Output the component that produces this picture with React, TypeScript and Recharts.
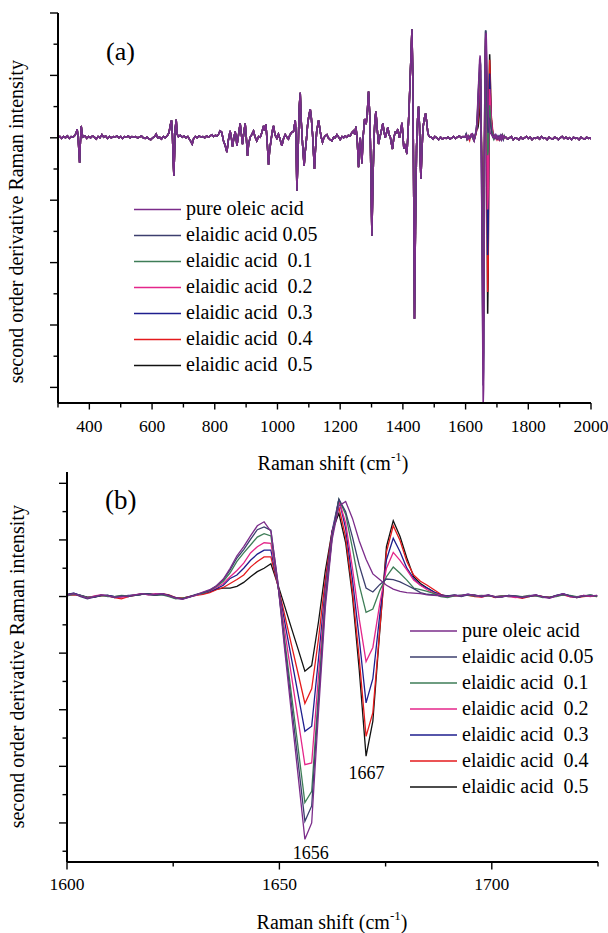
import React from 'react';
import { LineChart, Line, XAxis, YAxis, Legend } from 'recharts';

const FONT = '"Liberation Serif", "Times New Roman", Times, serif';

// ---------- Series meta ----------
const SERIES_NAMES = [
  'pure oleic acid',
  'elaidic acid 0.05',
  'elaidic acid\u00a0 0.1',
  'elaidic acid\u00a0 0.2',
  'elaidic acid\u00a0 0.3',
  'elaidic acid\u00a0 0.4',
  'elaidic acid\u00a0 0.5',
];
const SERIES_KEYS = ['oleic', 'e005', 'e01', 'e02', 'e03', 'e04', 'e05'];
const SERIES_COLORS = ['#7B2C8A', '#3C3F6E', '#3E7D57', '#E4268A', '#1E1E8E', '#E41A1C', '#111111'];
// drawing order (last on top)
const DRAW_ORDER = [6, 5, 4, 3, 2, 1, 0];

// ---------- Panel (b) data: 1600-1725 cm-1 ----------
const B_X = [
  1600, 1601.6, 1603.2, 1604.8, 1606.4, 1608, 1609.6, 1611.2, 1612.8, 1614.4,
  1616, 1617.6, 1619.2, 1620.8, 1622.4, 1624, 1625.6, 1627.2, 1628.8, 1630.4,
  1632, 1633.6, 1635.2, 1636.8, 1638.4, 1640, 1641.6, 1643.2, 1644.8, 1646.4,
  1648, 1649.6, 1651.2, 1652.8, 1654.4, 1656, 1657.6, 1659.2, 1660.8, 1662.4,
  1664, 1665.6, 1667.2, 1668.8, 1670.4, 1672, 1673.6, 1675.2, 1676.8, 1678.4,
  1680, 1681.6, 1683.2, 1684.8, 1686.4, 1688, 1689.6, 1691.2, 1692.8, 1694.4,
  1696, 1697.6, 1699.2, 1700.8, 1702.4, 1704, 1705.6, 1707.2, 1708.8, 1710.4,
  1712, 1713.6, 1715.2, 1716.8, 1718.4, 1720, 1721.6, 1723.2, 1724.8,
];

const OLEIC_B = [
  0.02, 0.05, 0.01, -0.03, 0.00, 0.03, 0.01, -0.01, 0.00, 0.01,
  0.03, 0.05, 0.03, 0.04, 0.05, 0.01, -0.03, -0.05, -0.01, 0.03,
  0.08, 0.12, 0.19, 0.31, 0.50, 0.72, 0.88, 1.07, 1.25, 1.32,
  1.15, 0.28, -0.91, -2.04, -3.16, -4.29, -4.00, -2.05, -0.20, 1.00,
  1.60, 1.68, 1.38, 0.98, 0.66, 0.40, 0.30, 0.20, 0.13, 0.09,
  0.07, 0.06, 0.05, 0.03, 0.02, 0.01, 0.00, 0.02, 0.01, 0.04,
  0.02, 0.01, 0.03, -0.01, 0.00, 0.01, 0.00, -0.02, 0.01, 0.03,
  -0.01, -0.03, 0.01, 0.05, 0.00, -0.01, 0.02, 0.01, 0.02,
];
const EA005_B = [
  0.04, 0.06, 0.00, -0.04, -0.01, 0.02, 0.02, -0.02, 0.01, 0.00,
  0.02, 0.04, 0.05, 0.03, 0.04, 0.02, -0.02, -0.04, 0.00, 0.04,
  0.07, 0.11, 0.19, 0.30, 0.47, 0.68, 0.83, 1.01, 1.18, 1.23,
  1.17, 0.26, -0.83, -1.88, -2.92, -3.97, -3.70, -1.85, -0.10, 1.05,
  1.72, 1.50, 1.05, 0.55, 0.15, 0.08, 0.21, 0.31, 0.30, 0.26,
  0.20, 0.14, 0.07, 0.04, 0.03, 0.01, 0.01, 0.03, 0.00, 0.03,
  0.03, 0.00, 0.02, 0.00, -0.01, 0.02, 0.01, -0.01, 0.00, 0.02,
  0.00, -0.02, 0.02, 0.04, 0.01, -0.02, 0.01, 0.02, 0.01,
];
const EA01_B = [
  0.01, 0.04, 0.02, -0.02, 0.00, 0.02, 0.00, 0.00, 0.02, 0.01,
  0.02, 0.04, 0.04, 0.03, 0.03, 0.00, -0.04, -0.03, -0.01, 0.03,
  0.06, 0.11, 0.18, 0.27, 0.42, 0.62, 0.77, 0.91, 1.05, 1.11,
  1.07, 0.24, -0.74, -1.71, -2.67, -3.64, -3.44, -1.70, -0.05, 1.05,
  1.72, 1.45, 0.85, 0.20, -0.28, -0.22, 0.10, 0.35, 0.52, 0.41,
  0.29, 0.15, 0.12, 0.09, 0.05, 0.00, -0.02, 0.01, 0.02, 0.02,
  0.01, 0.02, 0.01, 0.00, 0.01, 0.00, 0.01, 0.00, 0.02, 0.01,
  -0.02, -0.01, 0.00, 0.03, 0.02, 0.00, 0.01, 0.03, 0.00,
];
const EA02_B = [
  0.03, 0.04, 0.01, -0.03, 0.01, 0.03, 0.01, -0.02, -0.01, 0.00,
  0.03, 0.05, 0.03, 0.05, 0.04, 0.01, -0.02, -0.04, 0.00, 0.02,
  0.06, 0.10, 0.16, 0.23, 0.35, 0.46, 0.59, 0.77, 0.88, 0.95,
  0.94, 0.22, -0.58, -1.38, -2.17, -2.97, -2.94, -1.40, 0.05, 1.10,
  1.70, 1.30, 0.50, -0.40, -1.15, -0.90, -0.14, 0.50, 0.78, 0.64,
  0.47, 0.29, 0.20, 0.12, 0.06, 0.02, 0.00, 0.02, 0.01, 0.03,
  0.02, -0.01, 0.02, 0.00, 0.01, 0.00, -0.02, 0.00, 0.01, 0.02,
  0.00, -0.02, 0.01, 0.04, 0.00, -0.01, 0.02, 0.00, 0.02,
];
const EA03_B = [
  0.03, 0.06, 0.02, -0.02, -0.01, 0.02, 0.02, 0.00, 0.00, 0.02,
  0.02, 0.04, 0.04, 0.03, 0.05, 0.02, -0.03, -0.04, -0.01, 0.03,
  0.06, 0.09, 0.14, 0.20, 0.32, 0.38, 0.50, 0.64, 0.75, 0.82,
  0.82, 0.21, -0.43, -1.08, -1.73, -2.38, -2.29, -1.10, 0.15, 1.15,
  1.72, 1.20, 0.30, -0.75, -1.88, -1.45, -0.34, 0.65, 1.03, 0.79,
  0.50, 0.32, 0.20, 0.15, 0.08, 0.03, 0.01, 0.02, 0.02, 0.04,
  0.01, 0.00, 0.03, -0.01, 0.00, 0.02, 0.00, -0.02, 0.01, 0.03,
  -0.01, -0.02, 0.02, 0.05, 0.01, -0.02, 0.01, 0.02, 0.01,
];
const EA04_B = [
  0.02, 0.03, 0.01, -0.02, 0.00, 0.02, 0.01, -0.02, -0.04, 0.00,
  0.02, 0.04, 0.05, 0.03, 0.05, 0.03, -0.02, -0.03, 0.00, 0.02,
  0.04, 0.07, 0.12, 0.16, 0.23, 0.30, 0.38, 0.52, 0.62, 0.70,
  0.70, 0.20, -0.31, -0.84, -1.36, -1.89, -1.63, -0.75, 0.30, 1.15,
  1.58, 1.05, 0.10, -1.10, -2.47, -2.05, -0.60, 0.79, 1.25, 0.99,
  0.62, 0.38, 0.27, 0.20, 0.12, 0.04, 0.00, 0.01, 0.02, 0.02,
  0.00, -0.01, 0.02, -0.02, 0.00, 0.01, -0.01, -0.03, 0.00, 0.02,
  0.00, -0.01, 0.01, 0.03, 0.00, -0.02, 0.00, 0.01, 0.00,
];
const EA05_B = [
  0.03, 0.05, 0.02, -0.01, -0.01, 0.01, 0.02, 0.00, 0.01, 0.01,
  0.03, 0.04, 0.04, 0.02, 0.04, 0.01, -0.03, -0.03, 0.00, 0.03,
  0.05, 0.08, 0.13, 0.15, 0.15, 0.18, 0.25, 0.35, 0.44, 0.50,
  0.58, 0.22, -0.16, -0.55, -0.93, -1.32, -1.22, -0.45, 0.45, 1.15,
  1.47, 0.95, 0.00, -1.30, -2.82, -2.20, -0.64, 0.88, 1.34, 1.06,
  0.68, 0.35, 0.23, 0.15, 0.08, 0.02, 0.01, 0.02, 0.01, 0.03,
  0.02, 0.00, 0.02, -0.01, 0.01, 0.01, 0.00, -0.02, 0.01, 0.02,
  0.00, -0.02, 0.01, 0.04, 0.01, -0.01, 0.01, 0.02, 0.01,
];
const B_SERIES = [OLEIC_B, EA005_B, EA01_B, EA02_B, EA03_B, EA04_B, EA05_B];

// ---------- Panel (a): common spectrum outside 1600-1725 (all samples overlap) ----------
const A_LOW_X = [
  300, 306, 312, 318, 324, 330, 336, 342, 348, 354,
  358, 361, 364, 366, 369, 371, 374, 377, 380, 386,
  392, 398, 404, 410, 416, 422, 428, 434, 440, 446,
  452, 458, 464, 470, 476, 482, 488, 494, 500, 506,
  512, 518, 524, 530, 536, 542, 548, 554, 560, 566,
  572, 578, 584, 590, 596, 602, 608, 613, 618, 624,
  630, 636, 642, 648, 654, 658, 662, 665, 667, 669.6,
  672, 674, 677, 680, 684, 690, 696, 702, 708, 714,
  720, 724, 728, 732, 738, 744, 750, 756, 762, 768,
  774, 780, 786, 791, 796, 802, 808, 812, 817, 822,
  828, 833, 838.7, 843, 849, 853, 856.6, 861, 865, 868,
  870.6, 875, 881, 885, 888.5, 892, 897, 900, 904.5, 908,
  913, 918, 923.6, 928, 934, 940, 945, 950, 955.6, 959,
  963, 967, 971.5, 975, 980, 984, 987.5, 992, 998, 1003,
  1008, 1014, 1019, 1024.7, 1030, 1035, 1040, 1046, 1051, 1056.7,
  1059, 1062, 1066, 1069, 1072.6, 1076, 1080, 1085, 1088, 1092,
  1096, 1100, 1104.5, 1108, 1112, 1115, 1118, 1121, 1125, 1131,
  1135, 1139, 1143.7, 1148, 1152, 1157.7, 1162, 1168, 1173.7, 1179,
  1184, 1189.6, 1195, 1200, 1206, 1211, 1216, 1221, 1226, 1232,
  1237, 1242.6, 1247, 1250, 1254, 1258.6, 1262, 1264, 1267, 1269.4,
  1273, 1277.9, 1283, 1287, 1290.5, 1294, 1296.5, 1299, 1301.2, 1304,
  1307.6, 1311, 1314, 1318, 1322.4, 1326, 1330, 1336, 1340, 1343.7,
  1348, 1352, 1356, 1359.6, 1363, 1367, 1371, 1375.6, 1380, 1384,
  1389, 1393, 1397, 1400, 1403, 1407.6, 1410.5, 1413, 1416.5, 1420,
  1424, 1428.9, 1431.5, 1434, 1437, 1440, 1443.6, 1447, 1450, 1453,
  1455, 1457.6, 1460, 1464, 1468, 1472.4, 1476, 1480, 1485, 1490,
  1496, 1502, 1508, 1514, 1520, 1526, 1532, 1538, 1544, 1550,
  1556, 1562, 1568, 1574, 1580, 1586, 1592, 1597,
];
const A_LOW_Y = [
  0.00, 0.02, -0.01, 0.02, 0.00, 0.03, -0.01, 0.02, 0.01, 0.04,
  0.08, 0.14, 0.02, -0.15, -0.40, -0.12, 0.19, 0.06, 0.01, 0.03,
  -0.01, 0.02, 0.00, 0.03, 0.01, -0.02, 0.02, 0.00, 0.05, 0.01,
  0.03, -0.01, 0.02, 0.00, 0.02, 0.01, 0.03, 0.00, 0.02, -0.01,
  0.02, 0.01, 0.03, 0.00, 0.02, 0.01, 0.02, 0.00, 0.01, 0.03,
  0.00, -0.01, 0.01, -0.02, -0.03, 0.00, 0.02, 0.06, 0.00, 0.01,
  -0.02, 0.02, 0.00, 0.03, 0.08, 0.20, 0.28, 0.05, -0.30, -0.61,
  -0.20, 0.15, 0.29, 0.06, 0.02, 0.04, 0.01, 0.03, 0.00, 0.02,
  -0.03, -0.06, -0.10, -0.02, 0.02, 0.00, 0.03, 0.01, 0.02, 0.00,
  0.03, 0.01, 0.03, 0.05, 0.02, 0.04, 0.03, 0.06, 0.11, 0.09,
  -0.05, -0.12, -0.23, -0.05, 0.11, 0.00, -0.14, 0.00, 0.10, 0.02,
  -0.13, 0.02, 0.23, 0.05, -0.10, 0.05, 0.23, 0.05, -0.29, -0.10,
  0.01, 0.05, 0.11, 0.02, -0.05, 0.02, 0.01, 0.08, 0.19, 0.12,
  0.22, -0.05, -0.43, -0.20, -0.02, 0.12, 0.19, 0.05, -0.01, 0.06,
  -0.02, -0.13, -0.02, 0.05, 0.01, -0.02, 0.05, 0.09, 0.10, 0.28,
  0.05, -0.85, -0.20, 0.45, 0.72, 0.25, -0.10, -0.45, -0.25, -0.05,
  0.20, 0.35, 0.46, 0.32, 0.05, -0.25, -0.50, -0.20, 0.10, 0.28,
  0.15, 0.02, -0.07, 0.00, 0.03, 0.05, 0.00, -0.03, -0.05, 0.01,
  0.00, 0.05, 0.01, -0.03, 0.02, 0.00, 0.03, 0.01, 0.04, 0.03,
  0.08, 0.11, 0.05, 0.18, 0.00, -0.47, -0.10, 0.00, -0.20, -0.41,
  0.00, 0.30, 0.22, 0.45, 0.74, 0.40, -0.10, -0.90, -1.57, -0.80,
  -0.05, 0.30, 0.42, 0.15, -0.10, 0.00, 0.08, 0.23, 0.10, 0.00,
  0.08, 0.17, 0.05, 0.02, -0.08, -0.18, 0.00, 0.09, 0.08, 0.14,
  0.00, 0.10, 0.24, 0.05, -0.17, -0.10, -0.20, -0.26, 0.10, 0.49,
  1.05, 1.74, 1.00, -0.50, -2.90, -1.50, -0.15, 0.30, 0.50, 0.20,
  -0.30, -0.66, -0.30, 0.15, 0.30, 0.39, 0.25, 0.06, 0.02, 0.01,
  -0.02, 0.02, 0.00, -0.03, 0.01, -0.02, 0.00, -0.01, 0.01, -0.02,
  0.00, 0.02, -0.01, 0.01, 0.03, 0.00, 0.02, 0.01,
];
const A_HIGH_X = [
  1728, 1734, 1740, 1746, 1752, 1758, 1764, 1770, 1776, 1782,
  1788, 1794, 1800, 1806, 1812, 1818, 1824, 1830, 1836, 1842,
  1848, 1854, 1860, 1866, 1872, 1878, 1884, 1890, 1896, 1902,
  1908, 1914, 1920, 1926, 1932, 1938, 1944, 1950, 1956, 1962,
  1968, 1974, 1980, 1986, 1992, 1998, 2000,
];
const A_HIGH_Y = [
  0.01, -0.02, 0.00, 0.02, -0.03, 0.00, -0.01, -0.03, 0.01, -0.02,
  0.00, 0.02, -0.01, 0.01, -0.03, 0.00, -0.01, 0.01, -0.02, 0.02,
  -0.01, 0.00, -0.03, 0.01, -0.01, -0.02, 0.01, 0.00, -0.03, 0.00,
  0.02, -0.01, 0.01, -0.02, 0.00, -0.03, 0.01, -0.01, 0.00, -0.03,
  0.01, -0.01, -0.02, 0.01, -0.01, 0.00, -0.02,
];

// ---------- Axis ticks ----------
const A_X_TICKS = [300, 400, 500, 600, 700, 800, 900, 1000, 1100, 1200, 1300, 1400, 1500, 1600, 1700, 1800, 1900, 2000];
const A_X_LABELS = [400, 600, 800, 1000, 1200, 1400, 1600, 1800, 2000];
const A_Y_TICKS = [-4, -3.5, -3, -2.5, -2, -1.5, -1, -0.5, 0, 0.5, 1, 1.5, 2];
const B_X_TICKS = [1600, 1625, 1650, 1675, 1700, 1725];
const B_X_LABELS = [1600, 1650, 1700];
const B_Y_TICKS = [-4.5, -4, -3.5, -3, -2.5, -2, -1.5, -1, -0.5, 0, 0.5, 1, 1.5, 2];

// ---------- Build row tables ----------
function rowAllSame(x: number, v: number) {
  const r: any = { x };
  SERIES_KEYS.forEach((k) => { r[k] = v; });
  return r;
}
const B_ROWS = B_X.map((x, i) => {
  const r: any = { x };
  SERIES_KEYS.forEach((k, s) => { r[k] = B_SERIES[s][i]; });
  return r;
});
const A_ROWS = [
  ...A_LOW_X.map((x, i) => rowAllSame(x, A_LOW_Y[i])),
  ...B_ROWS,
  ...A_HIGH_X.map((x, i) => rowAllSame(x, A_HIGH_Y[i])),
];

// ---------- Tick renderers ----------
const makeXTick = (labels: number[], fs: number, dy: number, majorLen: number) => (props: any) => {
  const { x, y, payload } = props;
  const v = payload.value;
  const major = labels.includes(v);
  return (
    <g>
      <line x1={x} x2={x} y1={y} y2={y + (major ? majorLen : 4.5)} stroke="#000" strokeWidth={1.4} />
      {major ? (
        <text x={x} y={y + dy} textAnchor="middle" style={{ fontFamily: FONT }} fontSize={fs} fill="#000">{v}</text>
      ) : null}
    </g>
  );
};
const YTick = (props: any) => {
  const { x, y, payload } = props;
  const major = Number.isInteger(payload.value);
  return <line x1={x} x2={x - (major ? 8 : 4.5)} y1={y} y2={y} stroke="#000" strokeWidth={1.4} />;
};
const XTickA = makeXTick(A_X_LABELS, 17.5, 29, 6.5);
const XTickB = makeXTick(B_X_LABELS, 17.5, 28, 7.5);

const AXIS_LINE = { stroke: '#000', strokeWidth: 2 };

function legendContent(lineX1: number, lineX2: number, textX: number, rowY0: number, dy: number, w: number, h: number) {
  return () => (
    <svg width={w} height={h} style={{ display: 'block', overflow: 'visible', fontFamily: FONT }}>
      {SERIES_NAMES.map((name, i) => (
        <g key={name}>
          <line x1={lineX1} x2={lineX2} y1={rowY0 + i * dy} y2={rowY0 + i * dy} stroke={SERIES_COLORS[i]} strokeWidth={1.6} />
          <text x={textX} y={rowY0 + i * dy + 5.5} style={{ fontFamily: FONT }} fontSize={20} fill="#000">{name}</text>
        </g>
      ))}
    </svg>
  );
}

function XTitle({ x, y }: { x: number; y: number }) {
  return (
    <text x={x} y={y} textAnchor="middle" style={{ fontFamily: FONT }} fontSize={20} fill="#000">
      Raman shift (cm<tspan fontSize={13} dy={-9}>-1</tspan><tspan dy={9}>)</tspan>
    </text>
  );
}
function YTitle({ x, y }: { x: number; y: number }) {
  return (
    <text x={x} y={y} transform={`rotate(-90, ${x}, ${y})`} textAnchor="middle" style={{ fontFamily: FONT }} fontSize={20} fill="#000">
      second order derivative Raman intensity
    </text>
  );
}

function renderLines(width: number) {
  return DRAW_ORDER.map((s) => (
    <Line
      key={SERIES_KEYS[s]}
      type="linear"
      dataKey={SERIES_KEYS[s]}
      name={SERIES_NAMES[s]}
      stroke={SERIES_COLORS[s]}
      strokeWidth={width}
      dot={false}
      activeDot={false}
      isAnimationActive={false}
    />
  ));
}

export default function App() {
  return (
    <div style={{ position: 'absolute', left: 0, top: 0, width: 608, height: 933, background: '#fff' }}>
      <div style={{ position: 'absolute', left: 0, top: 0 }}>
        <LineChart width={608} height={480} data={A_ROWS} margin={{ top: 13, right: 17, bottom: 47, left: 38 }}>
          <XAxis
            dataKey="x" type="number" domain={[300, 2000]} ticks={A_X_TICKS} interval={0}
            height={30} tickSize={0} tickMargin={0} tickLine={false} axisLine={AXIS_LINE} tick={XTickA} allowDataOverflow
          />
          <YAxis
            type="number" domain={[-4.25, 2]} ticks={A_Y_TICKS} interval={0}
            width={20} tickSize={0} tickMargin={0} tickLine={false} axisLine={AXIS_LINE} tick={YTick} allowDataOverflow
          />
          {renderLines(1.5)}
          <Legend
            layout="vertical" align="center" verticalAlign="middle"
            wrapperStyle={{ position: 'absolute', left: 0, top: 0, width: 608, height: 480, pointerEvents: 'none' }}
            content={legendContent(134, 181, 186, 209.5, 26, 608, 480)}
          />
          <text x={106} y={60} style={{ fontFamily: FONT }} fontSize={26} fill="#000">(a)</text>
          <XTitle x={333} y={470} />
          <YTitle x={23} y={221.7} />
        </LineChart>
      </div>
      <div style={{ position: 'absolute', left: 0, top: 460 }}>
        <LineChart width={608} height={473} data={B_ROWS} margin={{ top: 12, right: 10, bottom: 41, left: 47 }}>
          <XAxis
            dataKey="x" type="number" domain={[1600, 1725]} ticks={B_X_TICKS} interval={0}
            height={30} tickSize={0} tickMargin={0} tickLine={false} axisLine={AXIS_LINE} tick={XTickB} allowDataOverflow
          />
          <YAxis
            type="number" domain={[-4.69, 2.2]} ticks={B_Y_TICKS} interval={0}
            width={20} tickSize={0} tickMargin={0} tickLine={false} axisLine={AXIS_LINE} tick={YTick} allowDataOverflow
          />
          {renderLines(1.3)}
          <Legend
            layout="vertical" align="center" verticalAlign="middle"
            wrapperStyle={{ position: 'absolute', left: 0, top: 0, width: 608, height: 473, pointerEvents: 'none' }}
            content={legendContent(410, 457, 462, 171, 26, 608, 473)}
          />
          <text x={105} y={48.7} style={{ fontFamily: FONT }} fontSize={27} fill="#000">(b)</text>
          <text x={310.7} y={398.5} textAnchor="middle" style={{ fontFamily: FONT }} fontSize={18} fill="#000">1656</text>
          <text x={366.5} y={319.3} textAnchor="middle" style={{ fontFamily: FONT }} fontSize={18} fill="#000">1667</text>
          <XTitle x={332} y={469} />
          <YTitle x={24.5} y={206.7} />
        </LineChart>
      </div>
    </div>
  );
}
